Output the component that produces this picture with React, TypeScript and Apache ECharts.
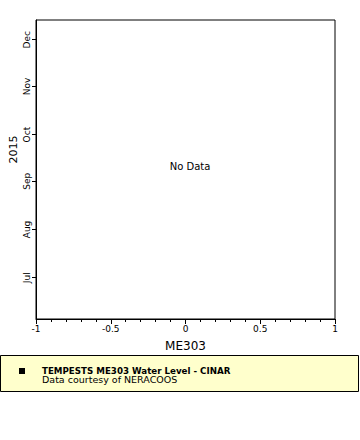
import React, { useEffect, useRef } from "react";
import * as echarts from "echarts";

const monthTicks = ["2015-07-01", "2015-08-01", "2015-09-01", "2015-10-01", "2015-11-01", "2015-12-01"];
const yRange = ["2015-06-04T11:00:00Z", "2015-12-13T16:00:00Z"];
const xTicks = [-1, -0.5, 0, 0.5, 1];
const seriesValues: [number, number][] = [];
const monthNames = ["Jan", "Feb", "Mar", "Apr", "May", "Jun", "Jul", "Aug", "Sep", "Oct", "Nov", "Dec"];
const yearLabel = "2015";
const xName = "ME303";
const legendTitle = "TEMPESTS ME303 Water Level - CINAR";
const legendSub = "Data courtesy of NERACOOS";
const noDataText = "No Data";

const FONT = "DejaVu Sans";

export default function App() {
  const ref = useRef<HTMLDivElement>(null);
  useEffect(() => {
    if (!ref.current) return;
    const chart = echarts.init(ref.current, null, { renderer: "svg" });
    const tickVals = monthTicks.map((d) => Date.parse(d + "T00:00:00Z"));
    chart.setOption({
      animation: false,
      backgroundColor: "#ffffff",
      grid: {
        left: 36, top: 20, width: 299, height: 299,
        show: true, borderColor: "#000", borderWidth: 1, backgroundColor: "transparent",
        containLabel: false, outerBoundsMode: "none",
      },
      xAxis: {
        type: "value",
        min: xTicks[0],
        max: xTicks[xTicks.length - 1],
        interval: 0.5,
        name: xName,
        nameLocation: "middle",
        nameGap: 21,
        nameMoveOverlap: false,
        nameTextStyle: { fontFamily: FONT, fontSize: 12, color: "#000" },
        axisLine: { show: true, onZero: false, lineStyle: { color: "#000", width: 1 } },
        axisTick: { show: true, length: 5, lineStyle: { color: "#000" } },
        minorTick: { show: true, splitNumber: 5, length: 3, lineStyle: { color: "#000" } },
        splitLine: { show: false },
        axisLabel: { fontFamily: FONT, fontSize: 9, color: "#000", margin: 5, formatter: (v: number) => String(v) },
      },
      yAxis: {
        type: "value",
        min: Date.parse(yRange[0]),
        max: Date.parse(yRange[1]),
        axisLine: { show: true, onZero: false, lineStyle: { color: "#000", width: 1 } },
        axisTick: { show: true, length: 4, customValues: tickVals, lineStyle: { color: "#000" } },
        splitLine: { show: false },
        axisLabel: {
          fontFamily: FONT,
          fontSize: 9,
          color: "#000",
          rotate: 90,
          margin: 5,
          customValues: tickVals,
          formatter: (v: number) => monthNames[new Date(v).getUTCMonth()],
        },
      },
      series: [
        { type: "scatter", data: seriesValues, symbol: "rect", symbolSize: 5, itemStyle: { color: "#000" } },
      ],
      graphic: [
        { type: "text", x: 13.5, y: 149.5, rotation: Math.PI / 2, style: { text: yearLabel, font: `11px "${FONT}"`, fill: "#000", align: "center", verticalAlign: "middle" } },
        { type: "text", x: 190, y: 166, style: { text: noDataText, font: `10px "${FONT}"`, fill: "#000", align: "center", verticalAlign: "middle" } },
        { type: "rect", shape: { x: 0.5, y: 355.5, width: 358, height: 36 }, style: { fill: "#ffffcc", stroke: "#000", lineWidth: 1 } },
        { type: "rect", shape: { x: 19, y: 368, width: 6, height: 6 }, style: { fill: "#000" } },
        { type: "text", x: 42, y: 370.5, style: { text: legendTitle, font: `bold 8.7px "${FONT}"`, fill: "#000", verticalAlign: "middle" } },
        { type: "text", x: 42, y: 379.5, style: { text: legendSub, font: `9.5px "${FONT}"`, fill: "#000", verticalAlign: "middle" } },
      ],
    });
    return () => chart.dispose();
  }, []);
  return <div ref={ref} style={{ position: "absolute", left: 0, top: 0, width: 360, height: 440 }} />;
}
